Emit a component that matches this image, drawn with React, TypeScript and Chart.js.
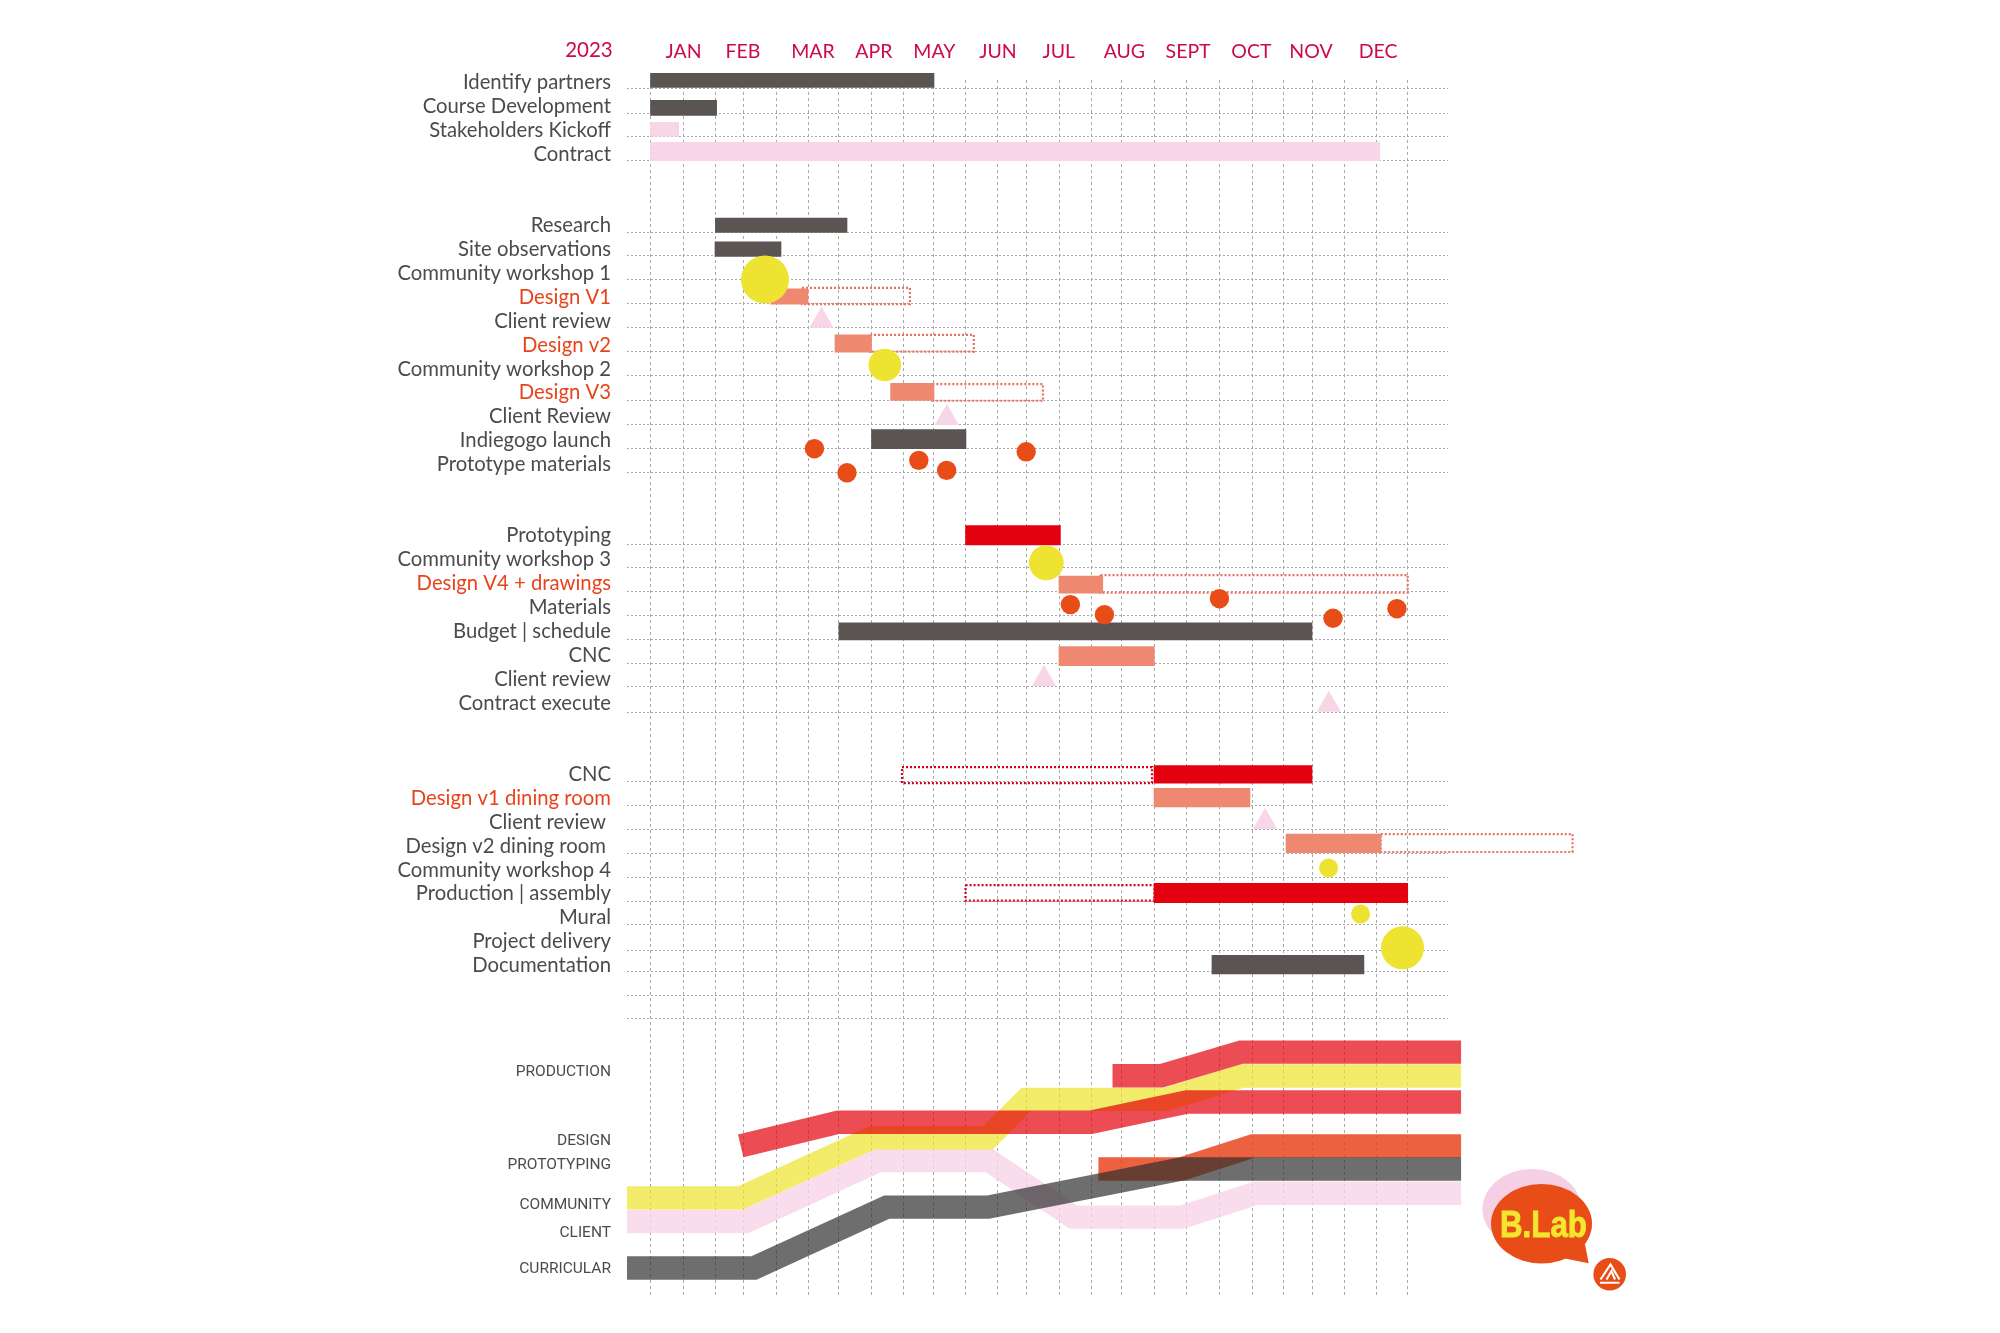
import React, { useEffect, useRef } from "react";
import { Chart, registerables } from "chart.js";

Chart.register(...registerables);

// ---- axis content -------------------------------------------------------
const yearLabel = "2023";
const yearDay = -29.4;
const monthNames = ["JAN", "FEB", "MAR", "APR", "MAY", "JUN", "JUL", "AUG", "SEPT", "OCT", "NOV", "DEC"];
const monthDays = [16.2, 44.8, 78.5, 107.8, 137, 167.6, 196.9, 228.5, 259.2, 289.7, 318.4, 350.7];
// day-of-year position of the vertical guide lines
const guideDays = [0, 16.2, 31.6, 44.8, 60.7, 76.4, 91.0, 106.7, 122.2, 136.8, 152.2, 167.6, 181.4, 197.2, 212.6, 227.3, 242.8, 258.5, 274.3, 290, 305.2, 319.1, 334.5, 350.1, 365];

const rowLabels = [
  "Identify partners", "Course Development", "Stakeholders Kickoff", "Contract",
  "Research", "Site observations", "Community workshop 1", "Design V1", "Client review", "Design v2",
  "Community workshop 2", "Design V3", "Client Review", "Indiegogo launch", "Prototype materials",
  "Prototyping", "Community workshop 3", "Design V4 + drawings", "Materials", "Budget | schedule", "CNC", "Client review", "Contract execute",
  "CNC", "Design v1 dining room", "Client review ", "Design v2 dining room ", "Community workshop 4", "Production | assembly", "Mural", "Project delivery", "Documentation",
];
const rowLabelLevels = [
  -0.252, 0.771, 1.748, 2.755,
  5.744, 6.751, 7.757, 8.763, 9.757, 10.763, 11.769, 12.763, 13.753, 14.759, 15.765,
  18.759, 19.761, 20.767, 21.769, 22.771, 23.774, 24.78, 25.774,
  28.759, 29.757, 30.763, 31.769, 32.776, 33.761, 34.767, 35.774, 36.759,
];
const rowLines = [
  0, 1.065, 2.01, 3.02,
  6.03, 7.03, 8.01, 9.03, 10.02, 11.03, 12.03, 13.08, 14.09, 15.09, 16.1,
  19.12, 20.1, 21.09, 22.11, 23.1, 24.11, 25.1, 26.16,
  29.07, 30.06, 31.06, 32.08, 33.08, 34.08, 35.08, 36.14, 37.04, 38.03, 39,
];
const accentRows = ["Design V1", "Design v2", "Design V3", "Design V4 + drawings", "Design v1 dining room"];

const streamLabels = ["PRODUCTION", "DESIGN", "PROTOTYPING", "COMMUNITY", "CLIENT", "CURRICULAR"];
const streamLabelRows = [41.24, 44.16, 45.15, 46.82, 47.99, 49.53];

// ---- gantt bars ---------------------------------------------------------
const barRows = [-0.335, 0.818, 1.72, 2.65, 5.74, 6.74, 8.73, 10.7, 12.73, 14.71, 18.74, 20.81, 22.77, 23.81, 28.77, 29.74, 31.66, 33.74, 36.74];
const barStarts = [0, 0, 0, 0, 31.5, 31.3, 58.1, 89.1, 115.9, 106.7, 152, 197, 91, 197, 242.8, 242.8, 306.4, 242.8, 270.7];
const barEnds = [136.8, 32.1, 13.8, 351.6, 94.9, 63.1, 76.1, 106.7, 136.8, 152.2, 197.7, 218.1, 318.9, 242.9, 318.9, 289, 352.1, 365, 343.9];
const barKinds = ["dark", "dark", "pink", "pink", "dark", "dark", "salmon", "salmon", "salmon", "dark", "red", "salmon", "dark", "salmon", "red", "salmon", "salmon", "red", "dark"];

// ---- planned (dotted) extents -------------------------------------------
const planStarts = [73.2, 106, 136, 217, 121.4, 352, 152];
const planEnds = [125.2, 156, 189.3, 365, 241.8, 444.4, 243];
const planTops = [8.37, 10.34, 12.4, 20.41, 28.46, 31.27, 33.41];
const planBottoms = [9.05, 11.04, 13.1, 21.15, 29.13, 32.02, 34.06];
const planKinds = ["salmon", "salmon", "salmon", "salmon", "red", "salmon", "red"];

// ---- milestones ---------------------------------------------------------
const reviewDays = [82.6, 143, 189.8, 327, 296.3];
const reviewRows = [9.745, 13.82, 24.77, 25.85, 30.76];
const workshopDays = [55.4, 113.1, 190.9, 326.9, 342.3, 362.5];
const workshopRows = [8.02, 11.6, 19.9, 32.69, 34.62, 36.04];
const workshopDiameters = [48, 32.6, 34.8, 19, 19, 43];
const materialDays = [79.2, 94.9, 129.5, 142.9, 181.2, 202.5, 218.9, 274.3, 329, 359.8];
const materialRows = [15.11, 16.12, 15.6, 16.02, 15.24, 21.65, 22.07, 21.4, 22.22, 21.82];

// ---- workstream ribbons -------------------------------------------------
const clientDays = [-11.1, 46.1, 109.9, 163.5, 203.9, 256.3, 291.9, 390.7];
const clientLevels = [47.51, 47.51, 44.96, 44.96, 47.33, 47.33, 46.33, 46.33];
const communityDays = [-11.1, 43.7, 107.1, 162.8, 181.3, 248.6, 285.1, 390.7];
const communityLevels = [46.52, 46.52, 44.0, 44.0, 42.39, 42.39, 41.41, 41.41];
const prototypingDays = [216, 256, 290.4, 390.7];
const prototypingLevels = [45.31, 45.31, 44.35, 44.35];
const curricularDays = [-11.1, 50.1, 114, 162.8, 256, 390.7];
const curricularLevels = [49.46, 49.46, 46.91, 46.91, 45.31, 45.31];
const designDays = [43.7, 90.8, 212.3, 258.6, 390.7];
const designLevels = [44.34, 43.35, 43.35, 42.5, 42.5];
const productionDays = [222.8, 246.4, 284.7, 390.7];
const productionLevels = [41.4, 41.4, 40.41, 40.41];

// ---- style --------------------------------------------------------------
const FONT = "Lato";
const barHeights = [14, 15, 14, 18.4, 14.3, 14.6, 15.3, 17.3, 17, 19, 19.3, 17, 17.3, 19, 17.6, 18.7, 18.7, 19.4, 18.7];
const kindColors: Record<string, string> = { dark: "#5a5552", pink: "#f8d6e8", salmon: "#ee8870", red: "#e3000f" };
const planColors: Record<string, string> = { salmon: "#e8705c", red: "#d9001b" };
const TEXT = "#4b4b4b";
const ACCENT = "#e8431a";
const CRIMSON = "#cc0a4b";
const GRID = "#a9a7a7";
const NONE = "rgba(0,0,0,0)";
const Y_MIN = -0.348;
const Y_MAX = 50.72;

const pts = (xs: number[], ys: number[]) => xs.map((x, i) => ({ x, y: ys[i] }));

const ribbon = (days: number[], levels: number[], color: string, order: number) => ({
  type: "line" as const,
  xAxisID: "x",
  yAxisID: "y",
  data: pts(days, levels),
  borderColor: color,
  borderWidth: 23.4,
  borderCapStyle: "butt" as const,
  borderJoinStyle: "miter" as const,
  pointRadius: 0,
  tension: 0,
  fill: false,
  clip: false as const,
  order,
});

const logoPlugin = {
  id: "logo",
  afterDraw(chart: Chart) {
    const c = chart.ctx;
    c.save();
    c.fillStyle = "#f5cfe4";
    c.beginPath();
    c.ellipse(1532, 1209, 49.5, 40, 0, 0, Math.PI * 2);
    c.fill();
    c.fillStyle = "#e84c17";
    c.beginPath();
    c.ellipse(1541.5, 1223.7, 50.5, 39.7, 0, 0, Math.PI * 2);
    c.fill();
    c.beginPath();
    c.moveTo(1585, 1244);
    c.lineTo(1588.7, 1263.3);
    c.lineTo(1565, 1258.5);
    c.closePath();
    c.fill();
    c.fillStyle = "#f2e62e";
    c.strokeStyle = "#f2e62e";
    c.lineWidth = 0.9;
    c.font = "bold 36px 'Liberation Sans'";
    c.textAlign = "center";
    c.textBaseline = "alphabetic";
    c.fillText("B.Lab", 1543.5, 1236.5, 87);
    c.strokeText("B.Lab", 1543.5, 1236.5, 87);
    c.fillStyle = "#e84c17";
    c.beginPath();
    c.arc(1609.7, 1274.2, 16.3, 0, Math.PI * 2);
    c.fill();
    c.strokeStyle = "#fff";
    c.lineWidth = 2.1;
    c.beginPath();
    c.moveTo(1600.5, 1279.5);
    c.lineTo(1610.5, 1264.5);
    c.lineTo(1619.5, 1279.5);
    c.moveTo(1606.5, 1279.5);
    c.lineTo(1611.5, 1271);
    c.lineTo(1615, 1279.5);
    c.moveTo(1600, 1282.8);
    c.lineTo(1619.5, 1282.8);
    c.stroke();
    c.restore();
  },
};

export default function App() {
  const ref = useRef<HTMLCanvasElement>(null);
  useEffect(() => {
    if (!ref.current) return;
    const datasets: any[] = [];

    datasets.push({
      type: "scatter",
      xAxisID: "x",
      yAxisID: "y",
      data: pts(materialDays, materialRows),
      pointStyle: "circle",
      pointRadius: 9.7,
      pointBackgroundColor: "#e84c17",
      pointBorderWidth: 0,
      clip: false,
      order: 1,
    });
    datasets.push({
      type: "scatter",
      xAxisID: "x",
      yAxisID: "y",
      data: pts(workshopDays, workshopRows),
      pointStyle: "circle",
      pointRadius: workshopDiameters.map((d) => d / 2),
      pointBackgroundColor: "#eee330",
      pointBorderWidth: 0,
      clip: false,
      order: 2,
    });
    datasets.push({
      type: "scatter",
      xAxisID: "x",
      yAxisID: "y",
      data: pts(reviewDays, reviewRows),
      pointStyle: "triangle",
      pointRadius: 14,
      pointBackgroundColor: "#f8d6e8",
      pointBorderWidth: 0,
      clip: false,
      order: 3,
    });
    barRows.forEach((row, i) => {
      datasets.push({
        type: "bar",
        indexAxis: "y",
        xAxisID: "x",
        yAxisID: "yBars",
        stack: "gantt",
        data: [{ x: [barStarts[i], barEnds[i]], y: row }],
        backgroundColor: kindColors[barKinds[i]],
        borderWidth: 0,
        barThickness: barHeights[i],
        clip: false,
        order: 4,
      });
    });
    planStarts.forEach((s, i) => {
      const e = planEnds[i];
      const t = planTops[i];
      const b = planBottoms[i];
      datasets.push({
        type: "line",
        xAxisID: "x",
        yAxisID: "y",
        data: [{ x: s, y: t }, { x: e, y: t }, { x: e, y: b }, { x: s, y: b }, { x: s, y: t }],
        borderColor: planColors[planKinds[i]],
        borderWidth: 2.2,
        borderDash: [2, 2],
        pointRadius: 0,
        tension: 0,
        fill: false,
        clip: false,
        order: 5,
      });
    });
    datasets.push(ribbon(productionDays, productionLevels, "rgba(228,0,10,0.70)", 6));
    datasets.push(ribbon(designDays, designLevels, "rgba(228,0,10,0.70)", 7));
    datasets.push(ribbon(curricularDays, curricularLevels, "rgba(46,46,46,0.694)", 8));
    datasets.push(ribbon(prototypingDays, prototypingLevels, "rgba(232,67,26,0.84)", 9));
    datasets.push(ribbon(communityDays, communityLevels, "rgba(238,227,48,0.72)", 10));
    datasets.push(ribbon(clientDays, clientLevels, "rgba(248,214,232,0.82)", 11));

    const nGuides = guideDays.length;
    const nLines = rowLines.length;
    const nRows = rowLabels.length;

    const chart = new Chart(ref.current, {
      data: { datasets },
      plugins: [logoPlugin],
      options: {
        responsive: false,
        animation: false,
        events: [],
        layout: { padding: { left: 0, top: 0, right: 552, bottom: 35 } },
        plugins: { legend: { display: false }, tooltip: { enabled: false }, title: { display: false } },
        scales: {
          x: {
            type: "linear",
            position: "top",
            stacked: false,
            min: -11.08,
            max: 384.4,
            afterBuildTicks: (s: any) => {
              s.ticks = [...guideDays, yearDay, ...monthDays].map((value) => ({ value }));
            },
            afterFit: (s: any) => {
              s.height = 80;
              s.paddingLeft = 0;
              s.paddingRight = 0;
            },
            grid: {
              color: (ctx: any) => (ctx.index < nGuides ? GRID : NONE),
              lineWidth: 1,
              drawTicks: false,
            },
            border: { display: false, dash: [3, 3] },
            ticks: {
              autoSkip: false,
              maxRotation: 0,
              minRotation: 0,
              padding: 17,
              color: CRIMSON,
              font: (ctx: any) => ({ family: FONT, size: ctx.index === nGuides ? 20.5 : 19.5 }),
              callback: (_v: any, i: number) =>
                i < nGuides ? "" : i === nGuides ? yearLabel : monthNames[i - nGuides - 1],
            },
          },
          y: {
            type: "linear",
            reverse: true,
            stacked: false,
            offset: false,
            min: Y_MIN,
            max: Y_MAX,
            afterBuildTicks: (s: any) => {
              s.ticks = [...rowLines, ...rowLabelLevels, ...streamLabelRows].map((value) => ({ value }));
            },
            afterFit: (s: any) => {
              s.width = 627;
              s.paddingTop = 0;
              s.paddingBottom = 0;
            },
            grid: {
              offset: false,
              color: (ctx: any) => (ctx.index < nLines ? GRID : NONE),
              lineWidth: 1,
              drawTicks: false,
            },
            border: { display: false, dash: [2, 2] },
            ticks: {
              autoSkip: false,
              padding: 16,
              crossAlign: "near",
              color: (ctx: any) => {
                const l = rowLabels[ctx.index - nLines];
                return l && accentRows.includes(l) ? ACCENT : TEXT;
              },
              font: (ctx: any) =>
                ctx.index >= nLines + nRows ? { family: "Roboto", size: 15.5 } : { family: FONT, size: 20.3 },
              callback: (_v: any, i: number) =>
                i < nLines ? "" : i < nLines + nRows ? rowLabels[i - nLines] : streamLabels[i - nLines - nRows],
            },
          },
          yBars: {
            type: "linear",
            display: false,
            reverse: true,
            stacked: true,
            offset: false,
            min: Y_MIN,
            max: Y_MAX,
          },
        },
      } as any,
    });
    return () => chart.destroy();
  }, []);
  return (
    <div style={{ position: "fixed", left: 0, top: 0, width: 2000, height: 1333, background: "#fff" }}>
      <canvas ref={ref} width={2000} height={1333} style={{ display: "block" }} />
    </div>
  );
}
